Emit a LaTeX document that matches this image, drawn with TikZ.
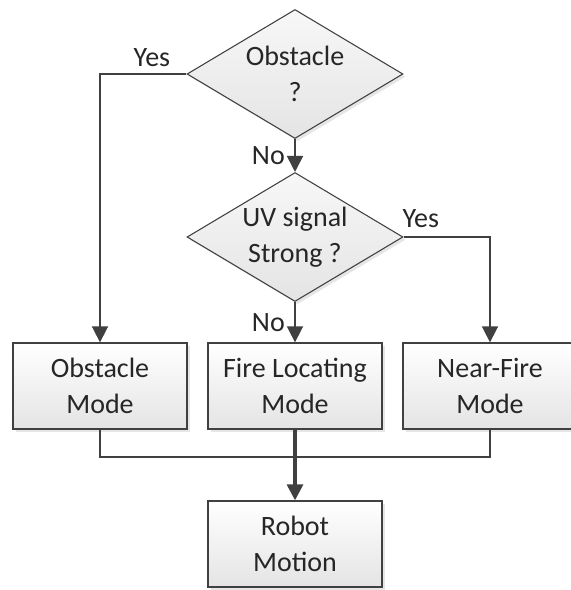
\documentclass[tikz,border=0pt]{standalone}
\usepackage{fontspec}
\setmainfont{Carlito}
\usetikzlibrary{shapes.geometric,arrows.meta,shadows}
\definecolor{linegray}{HTML}{404040}
\definecolor{fillgray}{HTML}{E4E4E4}
\begin{document}
\begin{tikzpicture}[x=0.75pt,y=-0.75pt,line width=1.3pt,draw=linegray,
dec node/.style={diamond,draw,line width=0.8pt,top color=gray!6,bottom color=fillgray,aspect=1.67,minimum width=162pt,minimum height=96.75pt,inner sep=0pt,align=center,drop shadow={shadow xshift=2pt,shadow yshift=-2pt,opacity=0.2}},
mode node/.style={rectangle,draw,line width=1pt,top color=white,bottom color=fillgray,minimum width=130.5pt,minimum height=64.5pt,inner sep=0pt,align=center,drop shadow={shadow xshift=2pt,shadow yshift=-2pt,opacity=0.2}},
flow/.style={-{Triangle[length=12pt,width=12pt]}}]
\useasboundingbox (0,0) rectangle (571,590);
\clip (0,0) rectangle (571,590);
\begin{scope}[every node/.style={font=\fontsize{21}{27}\selectfont,text=black!85}]
\node[dec node] (obs) at (295,74) {Obstacle\\?};
\node[dec node] (uv) at (295,237) {UV signal\\Strong ?};
\node[mode node] (om) at (100,386) {Obstacle\\Mode};
\node[mode node] (flm) at (295,386) {Fire Locating\\Mode};
\node[mode node] (nfm) at (490,386) {Near-Fire\\Mode};
\node[mode node] (rm) at (295,544) {Robot\\Motion};
\coordinate (join) at (295,457);
%\node[mode node] () at (,) {};
\end{scope}
\begin{scope}[every node/.style={font=\fontsize{21}{27}\selectfont,text=black!85,inner sep=2pt}]
\draw[flow] (obs.west) -| node[pos=0.2,above=3pt]{Yes} (om.north);
\draw[flow] (obs.south) -- node[left=5pt]{No} (uv.north);
\draw[flow] (uv.east) -| node[pos=0.1,above=4pt]{Yes} (nfm.north);
\draw[flow] (uv.south) -- node[left=5pt]{No} (flm.north);
\draw[line width=1pt] (om.south) |- (join);
\draw[line width=1pt] (nfm.south) |- (join);
\draw[flow,line width=2.4pt] (flm.south) -- (rm.north);
\end{scope}
\end{tikzpicture}
\end{document}
